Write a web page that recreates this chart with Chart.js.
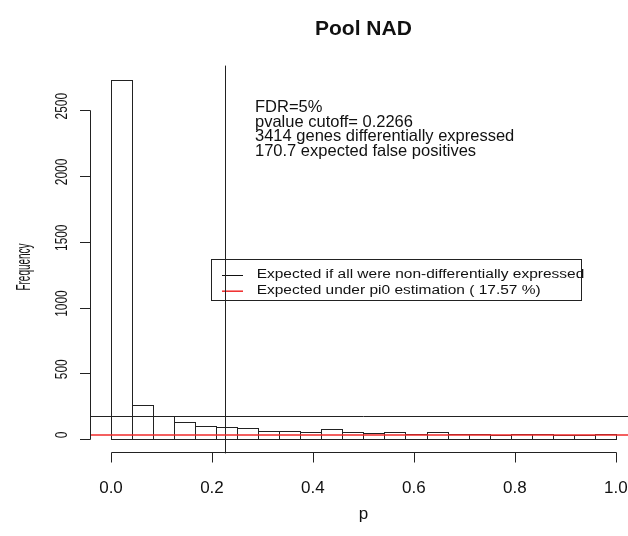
<!DOCTYPE html>
<html>
<head>
<meta charset="utf-8">
<script src="https://cdn.jsdelivr.net/npm/chart.js@4.4.1/dist/chart.umd.min.js"></script>
<style>
html, body { margin: 0; padding: 0; background: #fff; overflow: hidden; }
#wrap { width: 660px; height: 536px; }
</style>
</head>
<body>
<div id="wrap"><canvas id="c" width="660" height="536"></canvas></div>
<script>
// histogram of p-values, 24 equal bins on [0, 1]
const binWidth = 1 / 24;
const counts = [2730, 261, 175, 131, 101, 93, 81, 63, 63, 53, 73, 50,
                48, 51, 40, 51, 40, 40, 30, 40, 40, 30, 30, 40];
const xTicks = [0, 0.2, 0.4, 0.6, 0.8, 1.0];
const xTickLabels = ['0.0', '0.2', '0.4', '0.6', '0.8', '1.0'];
const yTicks = [0, 500, 1000, 1500, 2000, 2500];
const cutoff = 0.2266;       // pvalue cutoff
const expectedAll = 175;     // expected count per bin if nothing is DE
const pi0 = 0.1757;
const noteLines = ['FDR=5%', 'pvalue cutoff= 0.2266',
                   '3414 genes differentially expressed', '170.7 expected false positives'];
const legendLabels = ['Expected if all were non-differentially expressed',
                      'Expected under pi0 estimation ( 17.57 %)'];

const FONT = "'Liberation Sans', Arial, sans-serif";
const yTop = Math.max(...counts);

// R base graphics look: everything outside the bars is drawn here,
// positions come from the chart scales
const rStyle = {
    id: 'rStyle',
    afterDatasetsDraw(chart) {
        const ctx = chart.ctx;
        const a = chart.chartArea;
        const x = chart.scales.x, y = chart.scales.y;
        ctx.save();

        // bar outlines (shared edges, 1px like hist())
        ctx.strokeStyle = '#222';
        ctx.lineWidth = 1;
        chart.getDatasetMeta(0).data.forEach(function (b) {
            const l = Math.round(b.x - b.width / 2) + 0.5;
            const r = Math.round(b.x + b.width / 2) + 0.5;
            const t = Math.round(b.y) + 0.5;
            const bt = Math.round(b.base) + 0.5;
            ctx.strokeRect(l, t, r - l, bt - t);
        });

        // ablines
        let py = Math.round(y.getPixelForValue(expectedAll)) + 0.5;
        ctx.beginPath(); ctx.moveTo(a.left, py); ctx.lineTo(a.right, py); ctx.stroke();
        let px = Math.round(x.getPixelForValue(cutoff)) + 0.5;
        ctx.beginPath(); ctx.moveTo(px, a.top); ctx.lineTo(px, a.bottom); ctx.stroke();
        ctx.strokeStyle = '#f02a2a';
        ctx.lineWidth = 1.5;
        py = y.getPixelForValue(pi0 * expectedAll);
        ctx.beginPath(); ctx.moveTo(a.left, py); ctx.lineTo(a.right, py); ctx.stroke();

        // x axis
        ctx.strokeStyle = '#222';
        ctx.lineWidth = 1;
        const ax = Math.round(a.bottom) - 0.5;
        ctx.beginPath();
        ctx.moveTo(Math.round(x.getPixelForValue(xTicks[0])) + 0.5, ax);
        ctx.lineTo(Math.round(x.getPixelForValue(xTicks[xTicks.length - 1])) + 0.5, ax);
        xTicks.forEach(function (v) {
            const tx = Math.round(x.getPixelForValue(v)) + 0.5;
            ctx.moveTo(tx, ax); ctx.lineTo(tx, ax + 10);
        });
        ctx.stroke();
        ctx.fillStyle = '#111';
        ctx.font = '17px ' + FONT;
        ctx.textAlign = 'center';
        ctx.textBaseline = 'alphabetic';
        xTicks.forEach(function (v, i) {
            ctx.fillText(xTickLabels[i], x.getPixelForValue(v), 493);
        });

        // y axis
        const ay = Math.round(a.left) - 0.5;
        ctx.beginPath();
        ctx.moveTo(ay, Math.round(y.getPixelForValue(yTicks[0])) + 0.5);
        ctx.lineTo(ay, Math.round(y.getPixelForValue(yTicks[yTicks.length - 1])) + 0.5);
        yTicks.forEach(function (v) {
            const ty = Math.round(y.getPixelForValue(v)) + 0.5;
            ctx.moveTo(ay, ty); ctx.lineTo(ay - 10.5, ty);
        });
        ctx.stroke();
        yTicks.forEach(function (v) {
            ctx.save();
            ctx.translate(67, y.getPixelForValue(v) - 4);
            ctx.rotate(-Math.PI / 2);
            ctx.scale(0.7, 1);
            ctx.font = '17px ' + FONT;
            ctx.fillText(String(v), 0, 0);
            ctx.restore();
        });

        // axis titles and main title
        ctx.save();
        ctx.translate(30, 267);
        ctx.rotate(-Math.PI / 2);
        ctx.scale(0.5, 1);
        ctx.font = '20px ' + FONT;
        ctx.fillText('Frequency', 0, 0);
        ctx.restore();
        ctx.font = '17px ' + FONT;
        ctx.fillText('p', (a.left + a.right) / 2, 519);
        ctx.font = 'bold 21px ' + FONT;
        ctx.fillText('Pool NAD', (a.left + a.right) / 2, 35);

        // FDR note
        ctx.textAlign = 'left';
        ctx.font = '16.5px ' + FONT;
        noteLines.forEach(function (s, i) {
            ctx.fillText(s, 255, 111.7 + i * 14.8);
        });

        // legend box
        ctx.fillStyle = '#fff';
        ctx.fillRect(212, 260, 370, 41);
        ctx.strokeStyle = '#222';
        ctx.strokeRect(211.5, 259.5, 370, 41);
        const rowY = [275, 290.7];
        const rowCol = ['#111', '#f02a2a'];
        legendLabels.forEach(function (s, i) {
            ctx.strokeStyle = rowCol[i];
            ctx.lineWidth = i ? 1.5 : 1;
            ctx.beginPath(); ctx.moveTo(222, rowY[i] + 0.5); ctx.lineTo(243, rowY[i] + 0.5); ctx.stroke();
            ctx.save();
            ctx.translate(256.7, rowY[i]);
            ctx.scale(1.29, 1);
            ctx.fillStyle = '#111';
            ctx.font = '12px ' + FONT;
            ctx.textBaseline = 'middle';
            ctx.fillText(s, 0, 0);
            ctx.restore();
        });
        // the cutoff line runs over the legend box
        ctx.strokeStyle = '#222';
        ctx.lineWidth = 1;
        ctx.beginPath(); ctx.moveTo(px, 259.5); ctx.lineTo(px, 300.5); ctx.stroke();

        ctx.restore();
    }
};

new Chart(document.getElementById('c'), {
    type: 'bar',
    data: {
        datasets: [{
            data: counts.map((c, i) => ({ x: (i + 0.5) * binWidth, y: c })),
            backgroundColor: '#fff',
            borderWidth: 0,
            barPercentage: 1,
            categoryPercentage: 1
        }]
    },
    options: {
        responsive: false,
        animation: false,
        layout: { padding: { left: 90.8, right: 24, top: 65.6, bottom: 82.6 } },
        plugins: { legend: { display: false }, tooltip: { enabled: false } },
        scales: {
            x: { type: 'linear', offset: false, min: -0.04, max: 1.04, display: false },
            y: { min: -0.04 * yTop, max: 1.04 * yTop, display: false }
        }
    },
    plugins: [rStyle]
});
</script>
</body>
</html>
